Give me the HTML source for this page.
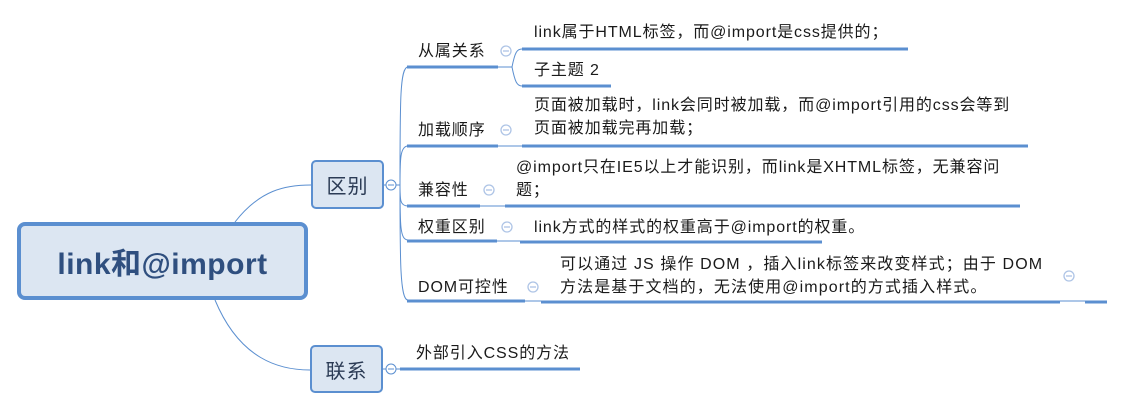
<!DOCTYPE html>
<html><head><meta charset="utf-8"><style>
body{margin:0;background:#fff;width:1125px;height:410px;overflow:hidden;position:relative;font-family:"Liberation Sans","Noto Sans CJK SC",sans-serif;}
.t{position:absolute;font-size:16px;color:#1a1a1a;white-space:nowrap;line-height:23px;letter-spacing:0.9px;}
.box{position:absolute;box-sizing:border-box;background:#dce6f2;border:2px solid #5b8fd0;border-radius:5px;display:flex;align-items:center;justify-content:center;color:#2b3b55;font-size:20px;letter-spacing:1px;}
</style></head><body>
<svg width="1125" height="410" style="position:absolute;left:0;top:0">
<g fill="none" stroke="#5b8fd0" stroke-width="1">
<path d="M235,222 C260,190 285,185 311,185"/>
<path d="M215,300 C240,360 280,370 310,370"/>
<line x1="384" y1="185" x2="386" y2="185"/><line x1="396" y1="185" x2="400" y2="185"/>
<line x1="383" y1="369" x2="386" y2="369"/><line x1="396" y1="369" x2="400" y2="369"/>
<path d="M400,185 C400,100 400,67 408,67"/>
<path d="M400,185 C400,160 400,146 408,146"/>
<path d="M400,185 C400,200 400,206 408,206"/>
<path d="M400,185 C400,225 400,240 408,240"/>
<path d="M400,185 C400,260 400,300 408,300"/>
<line x1="498" y1="67" x2="512" y2="67"/>
<path d="M512,67 C515,52 517,49 522,49"/>
<path d="M512,67 C515,82 517,86 522,86"/>
<line x1="498" y1="146" x2="522" y2="146"/>
<line x1="480" y1="206" x2="505" y2="206"/>
<line x1="497" y1="241" x2="520" y2="241"/>
<line x1="525" y1="301" x2="541" y2="301"/>
<line x1="1060" y1="301" x2="1085" y2="301"/>
<circle cx="391" cy="185" r="5" fill="#fff"/><line x1="388" y1="185" x2="394" y2="185"/>
<circle cx="391" cy="369" r="5" fill="#fff"/><line x1="388" y1="369" x2="394" y2="369"/>
</g>
<g fill="none" stroke="#aec4e6" stroke-width="1.3">
<circle cx="506" cy="51" r="5"/><line x1="503" y1="51" x2="509" y2="51"/>
<circle cx="506" cy="130" r="5"/><line x1="503" y1="130" x2="509" y2="130"/>
<circle cx="489" cy="190" r="5"/><line x1="486" y1="190" x2="492" y2="190"/>
<circle cx="507" cy="227" r="5"/><line x1="504" y1="227" x2="510" y2="227"/>
<circle cx="533" cy="287" r="5"/><line x1="530" y1="287" x2="536" y2="287"/>
<circle cx="1069" cy="276" r="5"/><line x1="1066" y1="276" x2="1072" y2="276"/>
</g>
<g stroke="#5b8fd0" stroke-width="3">
<line x1="407" y1="67" x2="498" y2="67"/>
<line x1="407" y1="146" x2="498" y2="146"/>
<line x1="407" y1="206" x2="480" y2="206"/>
<line x1="407" y1="241" x2="497" y2="241"/>
<line x1="407" y1="301" x2="525" y2="301"/>
<line x1="522" y1="49" x2="908" y2="49"/>
<line x1="522" y1="86" x2="611" y2="86"/>
<line x1="522" y1="146" x2="1028" y2="146"/>
<line x1="505" y1="206" x2="1020" y2="206"/>
<line x1="520" y1="242" x2="822" y2="242"/>
<line x1="541" y1="302" x2="1060" y2="302"/>
<line x1="1085" y1="302" x2="1107" y2="302"/>
<line x1="400" y1="369" x2="580" y2="369"/>
</g>
</svg>
<div class="box" style="left:17px;top:222px;width:291px;height:78px;border-width:4px;border-radius:8px;font-size:30px;font-weight:bold;color:#2f4f7f;letter-spacing:0.5px;">link和@import</div>
<div class="box" style="left:311px;top:160px;width:73px;height:49px;">区别</div>
<div class="box" style="left:310px;top:345px;width:73px;height:48px;">联系</div>
<div class="t" style="left:418px;top:40px">从属关系</div>
<div class="t" style="left:418px;top:119px">加载顺序</div>
<div class="t" style="left:418px;top:179px">兼容性</div>
<div class="t" style="left:418px;top:216px">权重区别</div>
<div class="t" style="left:418px;top:276px">DOM可控性</div>
<div class="t" style="left:534px;top:21px">link属于HTML标签，而@import是css提供的；</div>
<div class="t" style="left:534px;top:59px">子主题 2</div>
<div class="t" style="left:534px;top:94px">页面被加载时，link会同时被加载，而@import引用的css会等到<br>页面被加载完再加载；</div>
<div class="t" style="left:516px;top:156px">@import只在IE5以上才能识别，而link是XHTML标签，无兼容问<br>题；</div>
<div class="t" style="left:534px;top:216px">link方式的样式的权重高于@import的权重。</div>
<div class="t" style="left:560px;top:253px;letter-spacing:1.1px">可以通过 JS 操作 DOM ，插入link标签来改变样式；由于 DOM<br>方法是基于文档的，无法使用@import的方式插入样式。</div>
<div class="t" style="left:416px;top:342px">外部引入CSS的方法</div>
</body></html>
